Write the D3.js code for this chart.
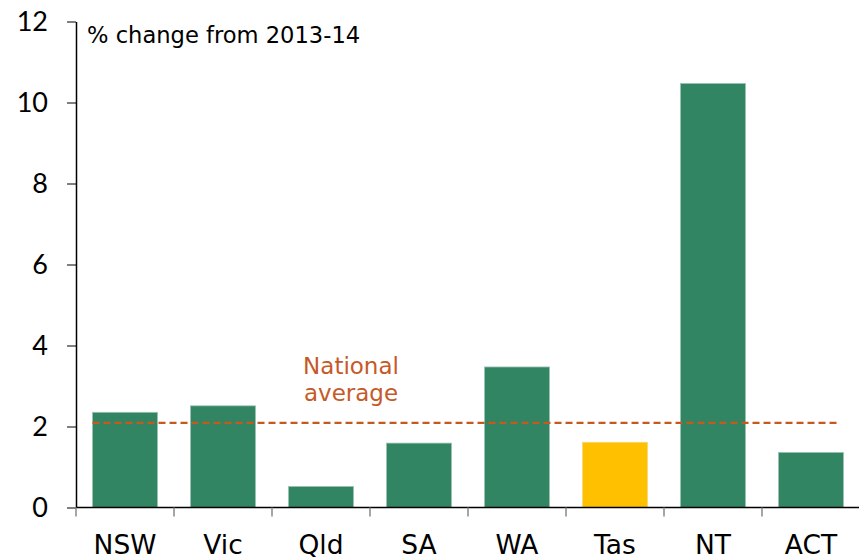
<!DOCTYPE html>
<html>
<head>
<meta charset="utf-8">
<script src="https://cdn.jsdelivr.net/npm/d3@7"></script>
<style>
  body { margin: 0; background: #fff; }
  svg { display: block; font-family: "DejaVu Sans", sans-serif; }
</style>
</head>
<body>
<svg id="chart" width="859" height="559"></svg>
<script>
// Data
const states = ["NSW", "Vic", "Qld", "SA", "WA", "Tas", "NT", "ACT"];
const changes = [2.35, 2.51, 0.52, 1.59, 3.47, 1.61, 10.47, 1.36];
const nationalAverage = 2.09;
const yTicks = [0, 2, 4, 6, 8, 10, 12];
const highlight = "Tas";

const svg = d3.select("#chart");
const plotLeft = 76, plotRight = 860, plotTop = 21.5, plotBottom = 507.5;

const x = d3.scaleBand().domain(states).range([plotLeft, plotRight]).paddingInner(0.337).paddingOuter(0.1685);
const y = d3.scaleLinear().domain([0, 12]).range([plotBottom, plotTop]);

// bars
svg.append("g")
   .selectAll("rect")
   .data(states.map((s, i) => ({ state: s, value: changes[i] })))
   .enter()
   .append("rect")
   .attr("x", d => x(d.state))
   .attr("width", x.bandwidth())
   .attr("y", d => y(d.value))
   .attr("height", d => y(0) - y(d.value))
   .attr("fill", d => d.state === highlight ? "#FFC000" : "#328563")
   .attr("stroke", d => d.state === highlight ? "#f5d77a" : "#9cc2b0")
   .attr("stroke-width", 0.8);

// national average line
svg.append("line")
   .attr("x1", x(states[0]))
   .attr("x2", x(states[states.length - 1]) + x.bandwidth() - 6)
   .attr("y1", y(nationalAverage))
   .attr("y2", y(nationalAverage))
   .attr("stroke", "#C55A1E")
   .attr("stroke-width", 2.3)
   .attr("stroke-dasharray", "7,4");

svg.append("text")
   .attr("x", 351)
   .attr("y", 373.5)
   .attr("text-anchor", "middle")
   .attr("fill", "#C55A28")
   .attr("font-size", 23)
   .selectAll("tspan")
   .data(["National", "average"])
   .enter()
   .append("tspan")
   .attr("x", 351)
   .attr("dy", (d, i) => i === 0 ? 0 : 27.5)
   .text(d => d);

// y axis
const yAxis = svg.append("g")
   .attr("transform", `translate(${plotLeft},0)`)
   .call(d3.axisLeft(y).tickValues(yTicks).tickSize(9).tickPadding(19).tickSizeOuter(0));
yAxis.select(".domain").attr("stroke", "#000").attr("stroke-width", 1.5);
yAxis.selectAll(".tick line").attr("stroke", "#000");
yAxis.selectAll(".tick text").attr("font-size", 27).attr("fill", "#000").attr("font-family", "Lato, sans-serif");

// x axis baseline and category ticks
svg.append("line")
   .attr("x1", plotLeft).attr("x2", 859)
   .attr("y1", y(0)).attr("y2", y(0))
   .attr("stroke", "#000").attr("stroke-width", 1.5);

svg.append("g")
   .selectAll("line")
   .data(states)
   .enter()
   .append("line")
   .attr("x1", d => x(d) - x.step() * x.paddingInner() / 2)
   .attr("x2", d => x(d) - x.step() * x.paddingInner() / 2)
   .attr("y1", y(0))
   .attr("y2", y(0) + 9)
   .attr("stroke", "#888")
   .attr("stroke-width", 1.5);

svg.append("g")
   .selectAll("text")
   .data(states)
   .enter()
   .append("text")
   .attr("x", d => x(d) + x.bandwidth() / 2)
   .attr("y", 554)
   .attr("text-anchor", "middle")
   .attr("font-size", 26.5)
   .attr("fill", "#000")
   .text(d => d);

// axis title
svg.append("text")
   .attr("x", 87)
   .attr("y", 43)
   .attr("font-size", 22.6)
   .attr("fill", "#000")
   .text("% change from 2013-14");
</script>
</body>
</html>
